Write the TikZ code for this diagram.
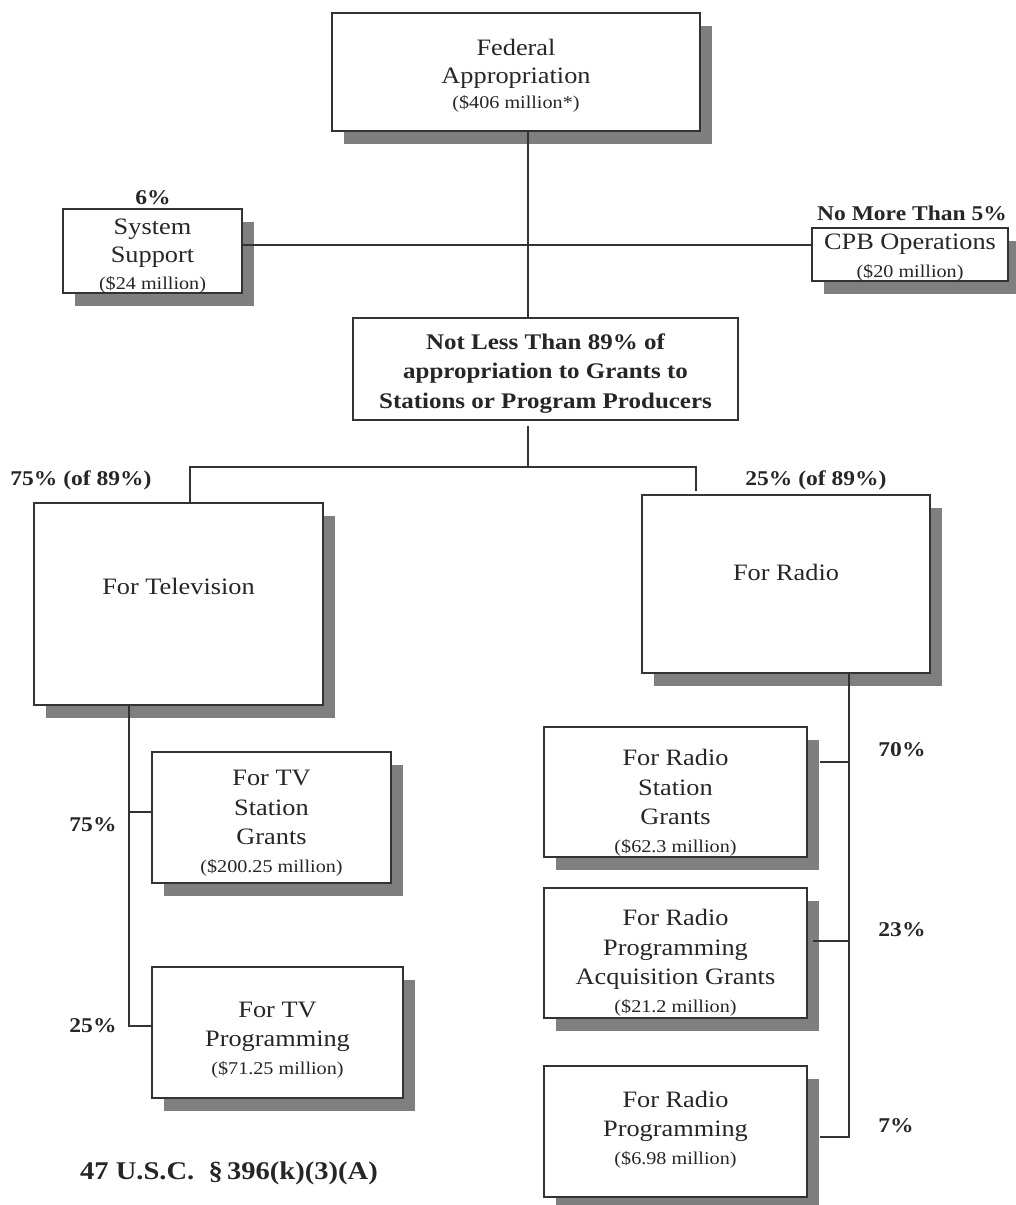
\documentclass[tikz,border=0pt]{standalone}
\usepackage{fontspec}
\setmainfont{Liberation Serif}[FakeStretch=1.12]
\usetikzlibrary{shadows}
\definecolor{shgray}{HTML}{7F7F7F}
\definecolor{lncol}{HTML}{333333}
\definecolor{txtcol}{HTML}{262626}
\newcommand\smtxt{\fontsize{18}{22}\selectfont}
\begin{document}
\begin{tikzpicture}[x=1pt,y=-1pt,
  box/.style={draw=lncol, line width=1.4pt, fill=white, inner sep=0pt, align=center,
    text=txtcol, font=\fontsize{23.5}{29.5}\selectfont},
  shbox/.style={box, drop shadow={shadow xshift=12pt, shadow yshift=-13pt, fill=shgray, opacity=1}},
  lab/.style={font=\fontsize{21}{25}\selectfont\bfseries, inner sep=0pt, text=txtcol},
  conn/.style={draw=lncol, line width=1.2pt}]
\useasboundingbox (0,0) rectangle (1016,1205);

% boxes
\node[shbox, minimum width=368pt, minimum height=118pt, text height=72pt, text depth=0pt] (fed) at (516,72)
  {Federal\\[-1.5pt]Appropriation\\[-5pt]{\smtxt (\$406 million*)}};
\node[shbox, minimum width=179pt, minimum height=84pt, text height=76pt, text depth=0pt] (ss) at (152.5,251)
  {System\\[-1.5pt]Support\\[-3pt]{\smtxt (\$24 million)}};
\node[shbox, minimum width=196pt, minimum height=53pt, text height=45pt, text depth=0pt] (cpb) at (910,254.5)
  {CPB Operations\\[-2pt]{\smtxt (\$20 million)}};
\node[box, minimum width=385pt, minimum height=102pt, text height=78pt, text depth=0pt,
  font=\fontsize{22.3}{29.5}\selectfont\bfseries] (nl) at (545.5,369)
  {Not Less Than 89\% of\\appropriation to Grants to\\Stations or Program Producers};
\node[shbox, minimum width=289pt, minimum height=202pt] (tv) at (178.5,604)
  {\raisebox{10pt}[0pt][0pt]{For Television}};
\node[shbox, minimum width=288pt, minimum height=178pt] (radio) at (786,584)
  {\raisebox{4pt}[0pt][0pt]{For Radio}};
\node[shbox, minimum width=239pt, minimum height=131pt, text height=109pt, text depth=0pt] (tvsg) at (271.5,817.5)
  {For TV\\Station\\Grants\\[-2pt]{\smtxt (\$200.25 million)}};
\node[shbox, minimum width=251pt, minimum height=131pt, text height=83pt, text depth=0pt] (tvp) at (277.5,1032.5)
  {For TV\\Programming\\[-2pt]{\smtxt (\$71.25 million)}};
\node[shbox, minimum width=263pt, minimum height=130pt, text height=120pt, text depth=0pt] (rsg) at (675.5,792)
  {For Radio\\Station\\Grants\\[-2pt]{\smtxt (\$62.3 million)}};
\node[shbox, minimum width=263pt, minimum height=130pt, text height=118pt, text depth=0pt] (rpa) at (675.5,953)
  {For Radio\\Programming\\Acquisition Grants\\[-2pt]{\smtxt (\$21.2 million)}};
\node[shbox, minimum width=263pt, minimum height=131pt, text height=65pt, text depth=0pt] (rp) at (675.5,1131.5)
  {For Radio\\Programming\\[-2pt]{\smtxt (\$6.98 million)}};

% junction coordinates
\coordinate (j1) at (528,245);
\coordinate (j2) at (528,467);
\coordinate (tvtop) at (190,467);
\coordinate (rtop) at (696,467);
\coordinate (tvs1) at (129,812);
\coordinate (tvs2) at (129,1026);
\coordinate (rs1) at (849,762);
\coordinate (rs2) at (849,941);
\coordinate (rs3) at (849,1137);

% connectors
\draw[conn] (fed.south -| j1) -- (nl.north -| j1);
\draw[conn] (ss.east |- j1) -- (cpb.west |- j1);
\draw[conn] ([yshift=-5pt]nl.south -| j2) -- (j2);
\draw[conn] (tv.north -| tvtop) -- (tvtop) -- (rtop) -- ([yshift=3pt]radio.north -| rtop);
\draw[conn] (tv.south -| tvs1) -- (tvs2) -- (tvp.west |- tvs2);
\draw[conn] (tvs1) -- (tvsg.west |- tvs1);
\draw[conn] (radio.south -| rs3) -- (rs3) -- ([xshift=12pt]rp.east |- rs3);
\draw[conn] (rs1) -- ([xshift=12pt]rsg.east |- rs1);
\draw[conn] (rs2) -- ([xshift=5pt]rpa.east |- rs2);

% labels
\node[lab] (l6) at (153,198) {6\%};
\node[lab] (l5) at (912,213) {No More Than 5\%};
\node[lab] (l75a) at (81,480) {75\% (of 89\%)};
\node[lab] (l25a) at (816,480) {25\% (of 89\%)};
\node[lab] (l75) at (93,825) {75\%};
\node[lab] (l25) at (93,1026) {25\%};
\node[lab] (l70) at (902,750) {70\%};
\node[lab] (l23) at (902,930) {23\%};
\node[lab] (l7) at (896,1126) {7\%};
\node[lab, font=\fontsize{25.5}{29}\selectfont\bfseries] (usc) at (229,1173) {47 U.S.C.\ \ \S\,396(k)(3)(A)};
\end{tikzpicture}
\end{document}
